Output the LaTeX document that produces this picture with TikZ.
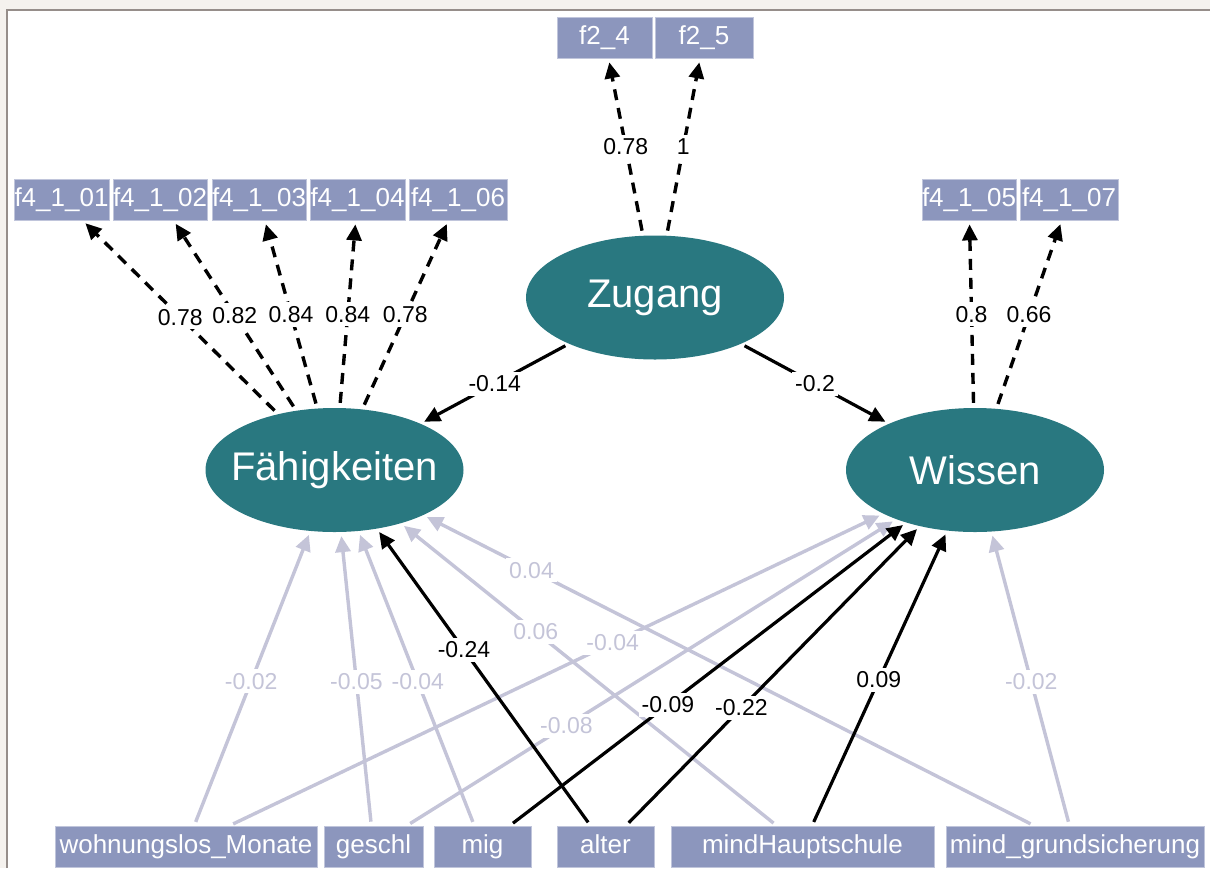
\documentclass[tikz,border=0pt]{standalone}
\usepackage{fontspec}
\setmainfont{Liberation Sans}
\usetikzlibrary{arrows.meta,shapes.geometric}
\definecolor{tealc}{RGB}{41,120,128}
\definecolor{boxc}{RGB}{140,150,189}
\definecolor{lgray}{RGB}{196,196,216}
\definecolor{beigec}{RGB}{245,242,238}
\definecolor{frameg}{RGB}{150,142,138}
\begin{document}
\begin{tikzpicture}[x=1pt,y=-1pt,
  ind/.style={rectangle, fill=boxc, draw=boxc!55!white, line width=0.8pt, inner sep=0pt,
    minimum height=41pt, text=white, text height=18.5pt, text depth=5.5pt, font=\fontsize{26}{30}\selectfont},
  latent/.style={ellipse, fill=tealc, inner sep=0pt, minimum width=258pt, minimum height=124pt},
  lattxt/.style={text=white, font=\fontsize{40}{48}\selectfont, inner sep=0pt},
  tip/.style={-{Triangle[length=16pt,width=15pt]}},
  load/.style={tip, black, line width=3.4pt, dash pattern=on 11pt off 8pt, shorten >=4pt, shorten <=5pt},
  sig/.style={tip, black, line width=3.2pt, shorten >=4pt, shorten <=4pt},
  ns/.style={tip, lgray, line width=3.4pt, shorten >=4pt, shorten <=4pt},
  lbl/.style={fill=white, inner xsep=3pt, inner ysep=4pt, text=black, font=\fontsize{23}{27}\selectfont},
  lblg/.style={lbl, text=lgray},
]
\useasboundingbox (0,0) rectangle (1210,868);
\fill[beigec] (0,0) rectangle (1210,868);
\fill[white] (7,10) rectangle (1210,868);
\draw[frameg, line width=1.5pt] (7,868) -- (7,10) -- (1210,10);

% indicators
\node[ind, minimum width=95pt] (f24) at (604.5,37.5) {f2\_4};
\node[ind, minimum width=98pt] (f25) at (704,37.5) {f2\_5};
\node[ind, minimum width=95pt] (f401) at (61.5,199.5) {f4\_1\_01};
\node[ind, minimum width=94pt] (f402) at (160,199.5) {f4\_1\_02};
\node[ind, minimum width=94pt] (f403) at (259,199.5) {f4\_1\_03};
\node[ind, minimum width=95pt] (f404) at (357.5,199.5) {f4\_1\_04};
\node[ind, minimum width=98pt] (f406) at (458,199.5) {f4\_1\_06};
\node[ind, minimum width=94pt] (f405) at (969,199.5) {f4\_1\_05};
\node[ind, minimum width=98pt] (f407) at (1069,199.5) {f4\_1\_07};

% predictors
\node[ind, minimum width=262pt] (wohn) at (186,846.5) {wohnungslos\_Monate};
\node[ind, minimum width=99pt] (geschl) at (373.5,846.5) {geschl};
\node[ind, minimum width=97pt] (mig) at (482.5,846.5) {mig};
\node[ind, minimum width=97pt] (alter) at (605.5,846.5) {alter};
\node[ind, minimum width=263pt] (mindH) at (802.5,846.5) {mindHauptschule};
\node[ind, minimum width=258pt] (mindg) at (1075,846.5) {mind\_grundsicherung};

% latents
\node[latent, label={[lattxt]center:Zugang}] (Zug) at (655,297.5) {};
\node[latent, label={[lattxt]center:Fähigkeiten}] (Fah) at (334.5,470) {};
\node[latent, label={[lattxt]center:Wissen}] (Wis) at (975,470) {};

% loadings
\draw[load] (Zug) -- node[lbl]{0.78} (f24);
\draw[load] (Zug) -- node[lbl]{1} (f25);
\draw[load] (Fah) -- node[lbl]{0.78} (f401);
\draw[load] (Fah) -- node[lbl]{0.82} (f402);
\draw[load] (Fah) -- node[lbl]{0.84} (f403);
\draw[load] (Fah) -- node[lbl]{0.84} (f404);
\draw[load] (Fah) -- node[lbl]{0.78} (f406);
\draw[load] (Wis) -- node[lbl]{0.8} (f405);
\draw[load] (Wis) -- node[lbl]{0.66} (f407);

% latent regressions
\draw[sig] (Zug) -- node[lbl]{-0.14} (Fah);
\draw[sig] (Zug) -- node[lbl]{-0.2} (Wis);

% predictor regressions (non-significant first)
\draw[ns] (wohn) -- coordinate[pos=0.49] (r1) (Fah);
\draw[ns] (wohn) -- coordinate[pos=0.586] (r2) (Wis);
\draw[ns] (geschl) -- coordinate[pos=0.49] (r3) (Fah);
\draw[ns] (geschl) -- coordinate[pos=0.326] (r4) (Wis);
\draw[ns] (mig) -- coordinate[pos=0.488] (r5) (Fah);
\draw[ns] (mindH) -- coordinate[pos=0.641] (r9) (Fah);
\draw[ns] (mindg) -- coordinate[pos=0.823] (r11) (Fah);
\draw[ns] (mindg) -- coordinate[pos=0.489] (r12) (Wis);
\draw[sig] (mig) -- coordinate[pos=0.399] (r6) (Wis);
\draw[sig] (alter) -- coordinate[pos=0.592] (r7) (Fah);
\draw[sig] (alter) -- coordinate[pos=0.393] (r8) (Wis);
\draw[sig] (mindH) -- coordinate[pos=0.494] (r10) (Wis);

\node[lblg] at (r1) {-0.02};
\node[lblg] at (r2) {-0.04};
\node[lblg] at (r3) {-0.05};
\node[lblg] at (r4) {-0.08};
\node[lblg] at (r5) {-0.04};
\node[lbl] at (r6) {-0.09};
\node[lbl] at (r7) {-0.24};
\node[lbl] at (r8) {-0.22};
\node[lblg] at (r9) {0.06};
\node[lbl] at (r10) {0.09};
\node[lblg] at (r11) {0.04};
\node[lblg] at (r12) {-0.02};
\end{tikzpicture}
\end{document}
